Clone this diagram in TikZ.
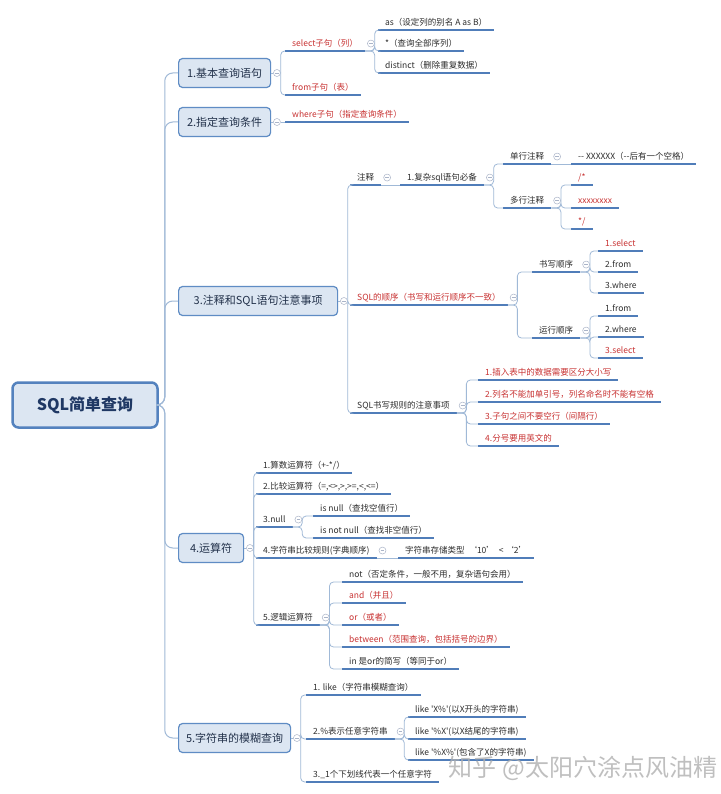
\documentclass[tikz,border=0pt]{standalone}
\usepackage{fontspec}
\setmainfont{Noto Sans CJK SC}[Ligatures=TeXOff]
\usetikzlibrary{positioning}

\definecolor{boxfill}{RGB}{220,230,242}
\definecolor{boxline}{RGB}{95,140,196}
\definecolor{rootline}{RGB}{84,130,190}
\definecolor{roottext}{RGB}{31,56,100}
\definecolor{boxtext}{RGB}{35,50,75}
\definecolor{darktext}{RGB}{45,45,45}
\definecolor{redtext}{RGB}{200,50,50}
\definecolor{ulblue}{RGB}{80,125,185}
\definecolor{brline}{RGB}{160,185,215}
\definecolor{foldline}{RGB}{170,180,200}
\definecolor{markgray}{RGB}{175,175,175}

\begin{document}
\begin{tikzpicture}[
    x=1pt, y=-1pt,
    root/.style={draw=rootline, line width=2.5pt, rounded corners=6pt, fill=boxfill, minimum width=145pt, minimum height=45pt, font=\fontsize{16}{18}\selectfont\bfseries, text=roottext},
    lvone/.style={draw=boxline, line width=1.2pt, rounded corners=4pt, fill=boxfill, minimum height=29pt, anchor=west, font=\fontsize{11}{13}\selectfont, text=boxtext},
    topic/.style={anchor=south west, inner xsep=7pt, inner ysep=3pt, text height=7pt, text depth=1.5pt, font=\fontsize{8.5}{10}\selectfont, text=darktext,
        append after command={(\tikzlastnode.south west) edge[ul] (\tikzlastnode.south east)}},
    hot/.style={topic, text=redtext},
    fold/.style={circle, draw=foldline, line width=0.5pt, minimum size=7pt, inner sep=0pt, fill=white,
        path picture={\draw[foldline, line width=0.5pt] ([xshift=1.6pt]path picture bounding box.west) -- ([xshift=-1.6pt]path picture bounding box.east);}},
    ul/.style={draw=ulblue, line width=1.6pt},
    br/.style={draw=brline, line width=0.8pt, rounded corners=4pt},
    trunk/.style={draw=brline, line width=1pt, rounded corners=8pt}
]
\fill[white] (0,0) rectangle (720,794);
\useasboundingbox (0,0) rectangle (720,794);

% root and main topics
\node[root] (root) at (85,405) {SQL简单查询};

\node[lvone, minimum width=92pt] (b1) at (178,73) {1.基本查询语句};
\node[lvone, minimum width=92pt] (b2) at (178,122) {2.指定查询条件};
\node[lvone, minimum width=159pt] (b3) at (178,301) {3.注释和SQL语句注意事项};
\node[lvone, minimum width=65pt] (b4) at (178,548) {4.运算符};
\node[lvone, minimum width=112pt] (b5) at (178,738) {5.字符串的模糊查询};

\foreach \b in {b1,b2,b3,b4,b5}
    \draw[trunk] (root.east) -- ++(6,0) |- (\b.west);

% 1. basic query
\node[fold, right=2pt of b1] (f1) {};
\node[hot] (sel) at (285,51) {select子句（列）};
\node[hot] (frm) at (285,95) {from子句（表）};
\draw[br] (b1.east) -- (f1.west);
\foreach \c in {sel,frm}
    \draw[br] (f1.east) |- (\c.south west);

\node[fold, right=2pt of sel] (self) {};
\node[topic] (as) at (378,30) {as（设定列的别名 A as B）};
\node[topic] (star) at (378,51) {*（查询全部序列）};
\node[topic] (dist) at (378,73) {distinct（删除重复数据）};
\foreach \c in {as,star,dist}
    \draw[br] (sel.south east) -- (self.east |- sel.south east) |- (\c.south west);

% 2. where
\node[fold, right=2pt of b2] (f2) {};
\node[hot] (whr) at (285,122) {where子句（指定查询条件）};
\draw[br] (b2.east) -- (f2.west);
\draw[br] (f2.east |- whr.south west) -- (whr.south west);

% 3. comments and notes
\node[fold, right=2pt of b3] (f3) {};
\node[topic] (zs) at (350,185) {注释};
\node[hot] (ord) at (350,305) {SQL的顺序（书写和运行顺序不一致）};
\node[topic] (rule) at (350,413) {SQL书写规则的注意事项};
\draw[br] (b3.east) -- (f3.west);
\foreach \c in {zs,ord,rule}
    \draw[br] (f3.east) |- (\c.south west);

\node[fold, right=2pt of zs] (zsf) {};
\node[topic] (cx) at (400,185) {1.复杂sql语句必备};
\draw[br] (zs.south east) -- (cx.south west);

\node[fold, right=2pt of cx] (cxf) {};
\node[topic] (dan) at (503,164) {单行注释};
\node[topic] (duo) at (503,208) {多行注释};
\foreach \c in {dan,duo}
    \draw[br] (cx.south east) -- (cxf.east |- cx.south east) |- (\c.south west);

\node[fold, right=2pt of dan] (danf) {};
\node[topic] (danx) at (571,164) {-{}- XXXXXX（-{}-后有一个空格）};
\draw[br] (dan.south east) -- (danx.south west);

\node[fold, right=2pt of duo] (duof) {};
\node[hot] (c1) at (571,185) {/*};
\node[hot] (c2) at (571,208) {xxxxxxxx};
\node[hot] (c3) at (571,229) {*/};
\foreach \c in {c1,c2,c3}
    \draw[br] (duo.south east) -- (duof.east |- duo.south east) |- (\c.south west);

\node[fold, right=2pt of ord] (ordf) {};
\node[topic] (sx) at (532,272) {书写顺序};
\node[topic] (yx) at (532,338) {运行顺序};
\foreach \c in {sx,yx}
    \draw[br] (ord.south east) -- (ordf.east |- ord.south east) |- (\c.south west);

\node[fold, right=2pt of sx] (sxf) {};
\node[hot] (s1) at (598,251) {1.select};
\node[topic] (s2) at (598,272) {2.from};
\node[topic] (s3) at (598,293) {3.where};
\foreach \c in {s1,s2,s3}
    \draw[br] (sx.south east) -- (sxf.east |- sx.south east) |- (\c.south west);

\node[fold, right=2pt of yx] (yxf) {};
\node[topic] (y1) at (598,316) {1.from};
\node[topic] (y2) at (598,337) {2.where};
\node[hot] (y3) at (598,358) {3.select};
\foreach \c in {y1,y2,y3}
    \draw[br] (yx.south east) -- (yxf.east |- yx.south east) |- (\c.south west);

\node[fold, right=2pt of rule] (rulef) {};
\node[hot] (r1) at (478,380) {1.插入表中的数据需要区分大小写};
\node[hot] (r2) at (478,402) {2.列名不能加单引号，列名命名时不能有空格};
\node[hot] (r3) at (478,424) {3.子句之间不要空行（间隔行）};
\node[hot] (r4) at (478,446) {4.分号要用英文的};
\foreach \c in {r1,r2,r3,r4}
    \draw[br] (rule.south east) -- (rulef.east |- rule.south east) |- (\c.south west);

% 4. operators
\node[fold, right=2pt of b4] (f4) {};
\node[topic] (o1) at (256,473) {1.算数运算符（+-*/）};
\node[topic] (o2) at (256,494) {2.比较运算符（=,<>,>,>=,<,<=）};
\node[topic] (o3) at (256,527) {3.null};
\node[topic] (o4) at (256,558) {4.字符串比较规则(字典顺序)};
\node[topic] (o5) at (256,625) {5.逻辑运算符};
\draw[br] (b4.east) -- (f4.west);
\foreach \c in {o1,o2,o3,o4,o5}
    \draw[br] (f4.east) |- (\c.south west);

\node[fold, right=2pt of o3] (o3f) {};
\node[topic] (n1) at (313,516) {is null（查找空值行）};
\node[topic] (n2) at (313,538) {is not null（查找非空值行）};
\foreach \c in {n1,n2}
    \draw[br] (o3.south east) -- (o3f.east |- o3.south east) |- (\c.south west);

\node[fold, right=2pt of o4] (o4f) {};
\node[topic] (o4a) at (398,558) {字符串存储类型 \ ‘10’ \ < ‘2’};
\draw[br] (o4.south east) -- (o4a.south west);

\node[fold, right=2pt of o5] (o5f) {};
\node[topic] (l1) at (342,582) {not（否定条件，一般不用，复杂语句会用）};
\node[hot] (l2) at (342,603) {and（并且）};
\node[hot] (l3) at (342,625) {or（或者）};
\node[hot] (l4) at (342,647) {between（范围查询，包括括号的边界）};
\node[topic] (l5) at (342,669) {in 是or的简写（等同于or）};
\foreach \c in {l1,l2,l3,l4,l5}
    \draw[br] (o5.south east) -- (o5f.east |- o5.south east) |- (\c.south west);

% 5. fuzzy matching
\node[fold, right=2pt of b5] (f5) {};
\node[topic] (k1) at (306,695) {1. like（字符串模糊查询）};
\node[topic] (k2) at (306,739) {2.\%表示任意字符串};
\node[topic] (k3) at (306,782) {3.\_1个下划线代表一个任意字符};
\draw[br] (b5.east) -- (f5.west);
\foreach \c in {k1,k2,k3}
    \draw[br] (f5.east) |- (\c.south west);

\node[fold, right=2pt of k2] (k2f) {};
\node[topic] (m1) at (408,717) {like 'X\%'(以X开头的字符串)};
\node[topic] (m2) at (408,739) {like '\%X'(以X结尾的字符串)};
\node[topic] (m3) at (408,760) {like '\%X\%'(包含了X的字符串)};
\foreach \c in {m1,m2,m3}
    \draw[br] (k2.south east) -- (k2f.east |- k2.south east) |- (\c.south west);

\node[font=\fontsize{24}{26}\selectfont, text=markgray, text opacity=0.8] (wm) at (583,768) {知乎 @太阳穴涂点风油精};

\end{tikzpicture}
\end{document}
